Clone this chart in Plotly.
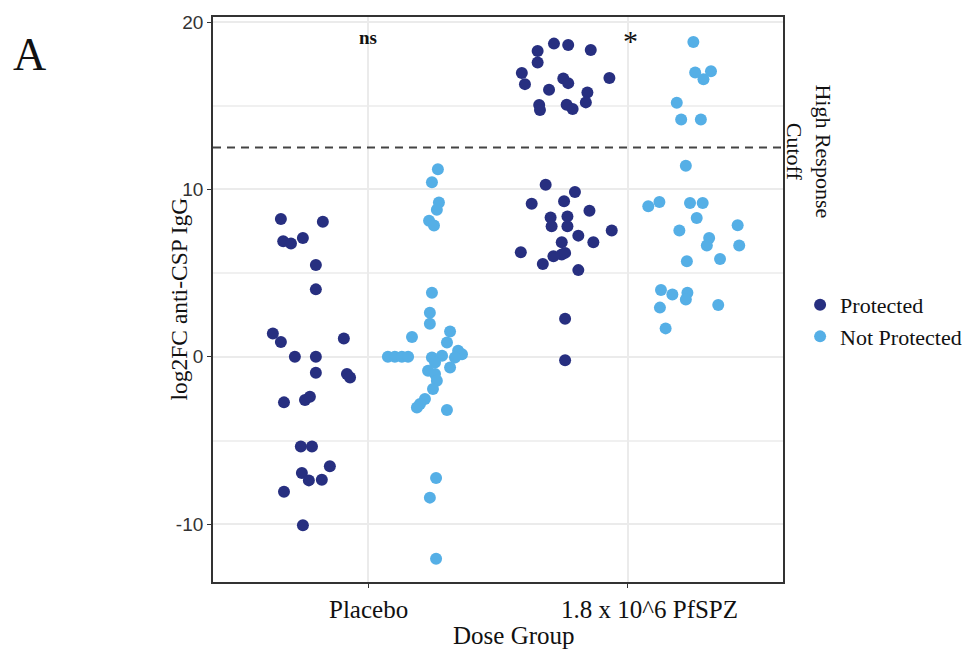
import plotly.graph_objects as go

# Dose groups on the x axis
groups = ["Placebo", "1.8 x 10^6 PfSPZ"]
group_pos = [1, 2]

# log2 fold change of anti-CSP IgG, with the jitter offset of each point
placebo_prot_y = [8.23, 8.07, 6.9, 6.77, 7.1, 5.48, 4.03, 1.4, 0.89, 1.09, 0.0, 0.0,
                  -0.95, -1.03, -1.23, -2.72, -2.58, -2.38, -5.36, -5.36, -6.53,
                  -6.94, -7.38, -7.34, -8.06, -10.06]
placebo_prot_jit = [-0.338, -0.176, -0.329, -0.299, -0.253, -0.203, -0.203, -0.369,
                    -0.338, -0.095, -0.284, -0.203, -0.203, -0.083, -0.071, -0.326,
                    -0.245, -0.226, -0.261, -0.218, -0.149, -0.257, -0.230, -0.180,
                    -0.326, -0.253]

placebo_np_y = [11.21, 10.43, 9.22, 8.79, 8.13, 7.84, 3.83, 2.64, 1.98, 1.19, 1.51,
                0.86, 0.36, 0.16, -0.04, 0.0, 0.0, 0.0, 0.0, -0.04, 0.06, -0.34,
                -0.64, -0.83, -1.03, -1.43, -1.92, -2.52, -2.82, -3.02, -3.18,
                -7.24, -8.41, -12.06]
placebo_np_jit = [0.268, 0.245, 0.272, 0.264, 0.234, 0.253, 0.245, 0.237, 0.237,
                  0.168, 0.315, 0.303, 0.346, 0.361, 0.334, 0.075, 0.102, 0.129,
                  0.153, 0.245, 0.284, 0.257, 0.315, 0.230, 0.257, 0.264, 0.249,
                  0.218, 0.199, 0.187, 0.303, 0.261, 0.237, 0.261]

pfspz_prot_y = [18.71, 18.63, 18.27, 18.33, 17.58, 16.95, 16.29, 16.63, 16.35, 16.65,
                15.95, 15.79, 15.20, 15.04, 14.74, 15.06, 14.80,
                10.28, 9.84, 9.15, 9.29, 8.73, 8.33, 8.39, 7.80, 7.80, 7.54, 7.24,
                6.85, 6.85, 6.25, 6.01, 6.11, 6.21, 5.55, 5.18, 2.28, -0.20]
pfspz_prot_jit = [-0.284, -0.229, -0.347, -0.142, -0.347, -0.408, -0.396, -0.248,
                  -0.229, -0.070, -0.303, -0.155, -0.161, -0.341, -0.338, -0.235,
                  -0.212,
                  -0.316, -0.203, -0.370, -0.245, -0.147, -0.297, -0.232, -0.293,
                  -0.232, -0.061, -0.190, -0.132, -0.254, -0.412, -0.286, -0.254,
                  -0.241, -0.327, -0.190, -0.241, -0.241]

pfspz_np_y = [18.81, 16.98, 16.58, 17.06, 15.18, 14.18, 14.18, 11.41, 8.99, 9.25,
              9.19, 9.19, 8.29, 7.86, 7.54, 7.10, 6.65, 6.65, 5.85, 5.71, 3.99,
              3.73, 3.83, 3.43, 2.94, 3.10, 1.70]
pfspz_np_jit = [0.254, 0.261, 0.293, 0.322, 0.190, 0.207, 0.283, 0.225, 0.080, 0.123,
                0.241, 0.290, 0.267, 0.425, 0.200, 0.315, 0.306, 0.431, 0.357, 0.229,
                0.129, 0.173, 0.231, 0.225, 0.125, 0.350, 0.147]

cutoff = 12.5
y_ticks = [-10, 0, 10, 20]
y_tick_text = ["-10", "0", "10", "20"]

DARK = "#272f80"
LIGHT = "#55afe6"
SERIF = "Liberation Serif, Times New Roman, serif"
SANS = "Liberation Sans, Arial, sans-serif"
INK = "#111111"

fig = go.Figure()


def add_group(name, color, parts):
    xs, ys = [], []
    for pos, yv, jit in parts:
        xs += [pos + j for j in jit]
        ys += yv
    fig.add_trace(go.Scatter(
        x=xs, y=ys, mode="markers", name=name,
        marker=dict(color=color, size=12, line=dict(width=0)),
    ))


add_group("Protected", DARK,
          [(group_pos[0], placebo_prot_y, placebo_prot_jit),
           (group_pos[1], pfspz_prot_y, pfspz_prot_jit)])
add_group("Not Protected", LIGHT,
          [(group_pos[0], placebo_np_y, placebo_np_jit),
           (group_pos[1], pfspz_np_y, pfspz_np_jit)])

# high response cutoff
fig.add_shape(type="line", xref="paper", x0=0, x1=1, y0=cutoff, y1=cutoff,
              line=dict(color="#444444", width=2, dash="8px,6px"), layer="above")


def label(text, x, y, size, xref="x", yref="y", angle=0, xshift=0):
    fig.add_annotation(x=x, y=y, xref=xref, yref=yref, text=text, textangle=angle,
                       showarrow=False, xanchor="center", yanchor="middle",
                       xshift=xshift,
                       font=dict(family=SERIF, size=size, color=INK))


# significance labels
label("<b>ns</b>", 1.0, 19.1, 19)
label("*", 2.01, 18.9, 30)
label("High Response<br>Cutoff", 1.046, 12.26, 22, xref="paper", angle=90)
label("A", -0.322, 0.933, 46, xref="paper", yref="paper")

# dose group labels under the ticks
label(groups[0], group_pos[0], -0.049, 25, yref="paper")
label(groups[1], group_pos[1], -0.049, 25, yref="paper", xshift=22)

# axis titles
label("log2FC anti-CSP IgG", -0.0614, 0.5, 23.5, xref="paper", yref="paper", angle=-90)
label("Dose Group", 0.528, -0.095, 25, xref="paper", yref="paper")

fig.update_layout(
    width=980, height=652,
    margin=dict(l=213, r=197, t=15, b=70),
    paper_bgcolor="white", plot_bgcolor="white",
    font=dict(family=SERIF, size=17, color=INK),
    showlegend=True,
    legend=dict(x=1.03, y=0.462, xanchor="left", yanchor="middle",
                font=dict(family=SERIF, size=22, color=INK),
                itemsizing="constant", bgcolor="rgba(0,0,0,0)"),
    xaxis=dict(
        range=[0.4, 2.6], tickmode="array", tickvals=group_pos,
        showticklabels=False,
        showgrid=True, gridcolor="#ebebeb", gridwidth=1.5, zeroline=False,
        showline=True, mirror=True, linecolor="#333333", linewidth=1.8,
        ticks="outside", ticklen=4, tickcolor="#333333",
    ),
    yaxis=dict(
        range=[-13.45, 20.3], tickmode="array", tickvals=y_ticks,
        ticktext=y_tick_text,
        showgrid=True, gridcolor="#ebebeb", gridwidth=1.5, zeroline=False,
        minor=dict(tickmode="array", tickvals=[-5, 5, 15], showgrid=True,
                   gridcolor="#f0f0f0", gridwidth=1.5),
        showline=True, mirror=True, linecolor="#333333", linewidth=1.8,
        ticks="outside", ticklen=4, tickcolor="#333333",
        tickfont=dict(family=SANS, size=19, color="#333333"),
    ),
)

fig.write_html("out.html")
